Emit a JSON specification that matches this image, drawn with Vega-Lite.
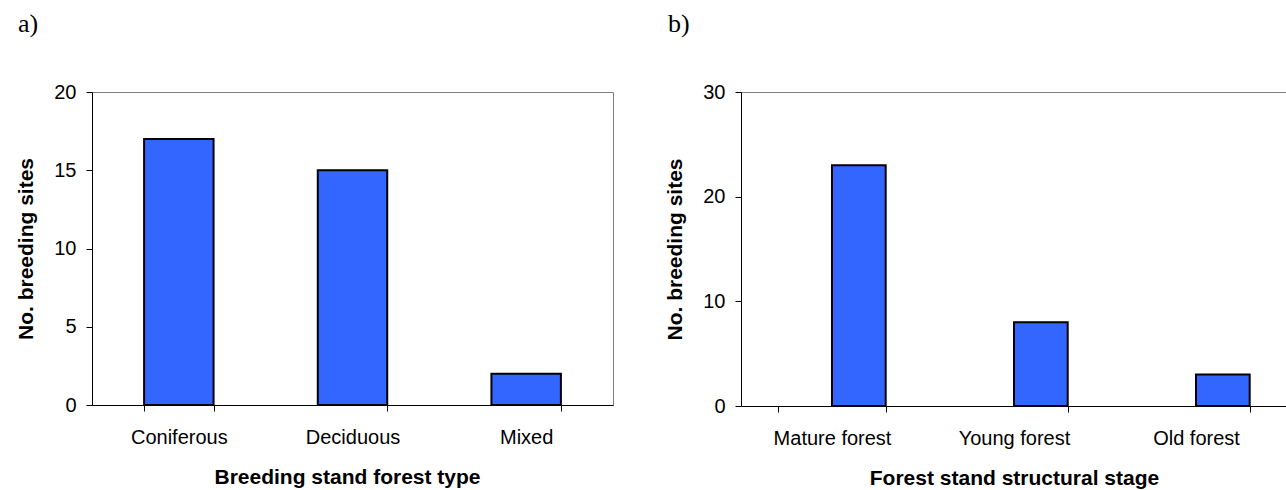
{
  "$schema": "https://vega.github.io/schema/vega-lite/v6.json",
  "padding": {"left": 15, "top": 10, "right": 0, "bottom": 0},
  "background": "white",
  "spacing": 50,
  "config": {
    "view": {"stroke": "#808080", "strokeWidth": 1},
    "font": "Liberation Sans",
    "axis": {
      "domainColor": "black", "tickColor": "black", "labelColor": "black", "titleColor": "black",
      "labelFont": "Liberation Sans", "titleFont": "Liberation Sans",
      "labelFontSize": 20, "titleFontSize": 21, "titleFontWeight": "bold",
      "grid": false, "tickSize": 6, "domainWidth": 1, "tickWidth": 1
    },
    "axisX": {"labelAngle": 0, "tickBand": "extent", "labelPadding": 16, "titlePadding": 19},
    "axisY": {"labelPadding": 10, "titlePadding": 17},
    "title": {"font": "Liberation Serif", "fontSize": 26, "fontWeight": "normal", "anchor": "start", "frame": "group", "color": "black", "baseline": "alphabetic", "offset": 45}
  },
  "hconcat": [
    {
      "title": {"text": "a)", "dx": -74},
      "width": 521,
      "height": 313,
      "data": {"values": [
        {"type": "Coniferous", "sites": 17},
        {"type": "Deciduous", "sites": 15},
        {"type": "Mixed", "sites": 2}
      ]},
      "mark": {"type": "bar", "fill": "#3366FF", "stroke": "black", "strokeWidth": 2},
      "encoding": {
        "x": {"field": "type", "type": "nominal", "sort": null,
              "scale": {"paddingInner": 0.6, "paddingOuter": 0.3},
              "axis": {"title": "Breeding stand forest type", "titleX": 255}},
        "y": {"field": "sites", "type": "quantitative",
              "scale": {"domain": [0, 20]},
              "axis": {"title": "No. breeding sites", "values": [0, 5, 10, 15, 20]}}
      }
    },
    {
      "title": {"text": "b)", "dx": -73},
      "width": 546,
      "height": 314,
      "data": {"values": [
        {"stage": "Mature forest", "sites": 23, "series": "s1"},
        {"stage": "Young forest", "sites": 8, "series": "s1"},
        {"stage": "Old forest", "sites": 3, "series": "s1"}
      ]},
      "mark": {"type": "bar", "fill": "#3366FF", "stroke": "black", "strokeWidth": 2},
      "encoding": {
        "x": {"field": "stage", "type": "nominal", "sort": null,
              "scale": {"paddingInner": 0.41, "paddingOuter": 0.205},
              "axis": {"title": "Forest stand structural stage"}},
        "xOffset": {"field": "series", "type": "nominal", "scale": {"domain": ["s0", "s1"]}},
        "y": {"field": "sites", "type": "quantitative",
              "scale": {"domain": [0, 30]},
              "axis": {"title": "No. breeding sites", "values": [0, 10, 20, 30]}}
      }
    }
  ]
}
